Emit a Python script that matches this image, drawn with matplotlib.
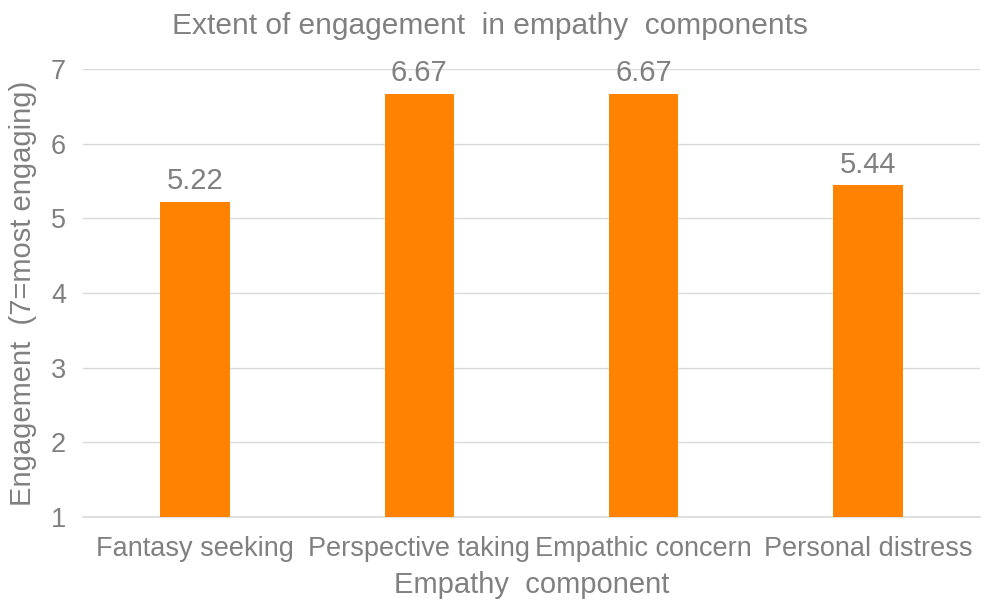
import matplotlib
matplotlib.use("Agg")
import matplotlib.pyplot as plt

categories = ["Fantasy seeking", "Perspective taking", "Empathic concern", "Personal distress"]
values = [5.22, 6.67, 6.67, 5.44]
value_labels = ["5.22", "6.67", "6.67", "5.44"]
yticks = [1, 2, 3, 4, 5, 6, 7]

plt.rcParams['font.family'] = ['Liberation Sans', 'DejaVu Sans']
txt = '#808080'
grid = '#d9d9d9'
orange = '#ff8300'

fig = plt.figure(figsize=(9.87, 6.13), dpi=100)
ax = fig.add_axes([0.084, 0.1566, 0.909, 0.7308])

x = list(range(len(categories)))
bars = ax.bar(x, [v - 1 for v in values], bottom=1, width=0.31, color=orange, zorder=3)
for xi, v, lab in zip(x, values, value_labels):
    ax.annotate(lab, (xi, v), xytext=(0, 5), textcoords='offset points',
                ha='center', va='bottom', fontsize=21, color=txt)

ax.set_xlim(-0.5, 3.5)
ax.set_ylim(1, 7)
ax.set_yticks(yticks)
ax.set_yticklabels([str(t) for t in yticks])
ax.set_xticks(x)
ax.set_xticklabels(categories)
ax.tick_params(axis='both', length=0, labelsize=19.5, colors=txt)
ax.tick_params(axis='x', pad=14)
ax.tick_params(axis='y', pad=12)
for s in ['top', 'right', 'left']:
    ax.spines[s].set_visible(False)
ax.spines['bottom'].set_color(grid)
ax.spines['bottom'].set_linewidth(1.2)
ax.yaxis.grid(True, color=grid, linewidth=1.0, zorder=0)
ax.set_axisbelow(True)

ax.set_xlabel("Empathy  component", fontsize=21, color=txt, labelpad=6)
ax.set_ylabel("Engagement  (7=most engaging)", fontsize=21, color=txt, labelpad=10)
fig.text(0.496, 0.958, "Extent of engagement  in empathy  components", ha='center', va='center',
         fontsize=21.5, color=txt)

fig.savefig("out.png", dpi=100, facecolor='white')
